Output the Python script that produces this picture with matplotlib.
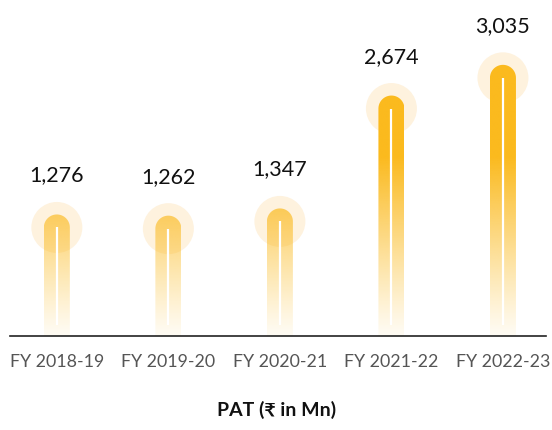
import numpy as np
import matplotlib
matplotlib.use("Agg")
import matplotlib.pyplot as plt
from matplotlib.path import Path
from matplotlib.patches import PathPatch, Ellipse

plt.rcParams['font.family'] = ['Lato', 'DejaVu Sans']

years = ['FY 2018-19', 'FY 2019-20', 'FY 2020-21', 'FY 2021-22', 'FY 2022-23']
pat = [1276, 1262, 1347, 2674, 3035]
value_labels = ['1,276', '1,262', '1,347', '2,674', '3,035']

fig = plt.figure(figsize=(5.52, 4.30), dpi=100)
ax = fig.add_axes([10 / 552, 94 / 430, 536 / 552, 336 / 430])
ax.set_xlim(-0.42, 4.386)
ax.set_ylim(0, 3950)

# pixel -> data scale factors
px_x = 4.806 / 536
px_y = 3950 / 336

bar_w = 26 * px_x
rx = 13 * px_x
ry = 13 * px_y
base = np.array([251, 186, 30]) / 255.0


def bar_path(x, v):
    t = np.linspace(0, np.pi, 30)
    verts = [(x - bar_w / 2, 0), (x + bar_w / 2, 0), (x + bar_w / 2, v)]
    verts += [(x + rx * np.cos(a), v + ry * np.sin(a)) for a in t[1:]]
    verts += [(x - bar_w / 2, 0)]
    codes = [Path.MOVETO] + [Path.LINETO] * (len(verts) - 2) + [Path.CLOSEPOLY]
    return Path(verts, codes)


# vertical gradient (alpha by height)
ny = 300
yy = np.linspace(0, 3950, ny)
alpha = np.clip(0.05 + 0.95 * (yy / 2100) ** 1.1, 0, 1)
grad = np.zeros((ny, 2, 4))
grad[:, :, :3] = base
grad[:, :, 3] = alpha[:, None]

for i, v in enumerate(pat):
    halo = Ellipse((i, v), 51 * px_x, 51 * px_y, color='#FEF2DE', zorder=1, lw=0)
    ax.add_patch(halo)
    patch = PathPatch(bar_path(i, v), facecolor='none', edgecolor='none', zorder=2)
    ax.add_patch(patch)
    im = ax.imshow(grad, extent=(i - bar_w / 2, i + bar_w / 2, 0, 3950), origin='lower',
                   aspect='auto', zorder=2, interpolation='bilinear')
    im.set_clip_path(patch)
    ax.plot([i, i], [11 * px_y, v], color='white', lw=1.6, zorder=3, solid_capstyle='butt')
    ax.text(i, v + 610, value_labels[i], ha='center', va='center', fontsize=15.5, color='#111111')

ax.set_xlim(-0.42, 4.386)
ax.set_ylim(0, 3950)
for s in ['top', 'right', 'left']:
    ax.spines[s].set_visible(False)
ax.spines['bottom'].set_color('#222222')
ax.spines['bottom'].set_linewidth(1.2)
ax.set_yticks([])
ax.set_xticks(range(len(years)))
ax.set_xticklabels(years, fontsize=12.8, color='#555555')
ax.tick_params(axis='x', length=0, pad=13)

fig.text(277 / 552, 1 - 410 / 430, 'PAT (₹ in Mn)', ha='center', va='center',
         fontsize=14, fontweight='bold', color='#111111')

fig.savefig('out.png', dpi=100, facecolor='white')
